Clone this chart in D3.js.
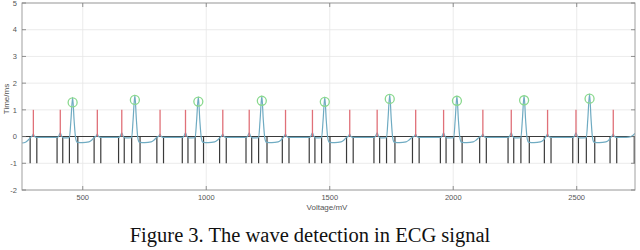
<!DOCTYPE html>
<html><head><meta charset="utf-8">
<script src="https://d3js.org/d3.v7.min.js"></script>
<style>body{margin:0;background:#fff}svg{display:block}</style>
</head><body>
<svg id="c" width="640" height="250"></svg>
<script>
// ---- data ----
const xTicks = [500, 1000, 1500, 2000, 2500];
const yTicks = [-2, -1, 0, 1, 2, 3, 4, 5];
const xDomain = [254, 2736];
const yDomain = [-2, 5];
// detected peaks (green circles): [x, y]
const peakMarks = [[459,1.28],[711,1.37],[968,1.31],[1225,1.34],[1480,1.30],[1743,1.41],[2015,1.34],[2287,1.36],[2552,1.42]];
// red spikes (height 1)
const redSpikes = [300,409,559,658,813,916,1067,1174,1321,1430,1581,1692,1848,1961,2120,2235,2382,2497,2648];
const redHeight = 1;
// black markers (depth -1)
const blackStems = [287,314,396,419,446,480,546,573,645,668,698,732,800,827,903,926,955,989,1054,1081,1161,1184,1212,1246,1308,1335,1417,1440,1467,1501,1568,1595,1679,1702,1730,1764,1835,1862,1948,1971,2002,2036,2107,2134,2222,2245,2274,2308,2369,2396,2484,2507,2539,2573,2635,2662,2733];
const blackDepth = -1;
// blue ECG signal: [x, y]
const ecg = [
[254,-0.24],[268,-0.21],[280,-0.12],[289,-0.03],[295,0.02],[300,0.09],[305,0],[314,-0.03],
[397,-0.03],[404,0.04],[409,0.14],[414,0.02],[423,-0.05],[446,-0.04],[452,0.6],[459,1.47],[465,0.6],[471,-0.05],[477,-0.21],[499,-0.23],[525,-0.2],[537,-0.13],[547,-0.03],[554,0.02],[559,0.09],[564,0],[573,-0.03],
[646,-0.03],[653,0.04],[658,0.14],[663,0.02],[672,-0.05],[698,-0.04],[704,0.65],[711,1.55],[717,0.65],[723,-0.05],[729,-0.21],[751,-0.23],[777,-0.2],[789,-0.13],[799,-0.03],[808,0.02],[813,0.09],[818,0],[827,-0.03],
[904,-0.03],[911,0.04],[916,0.14],[921,0.02],[930,-0.05],[955,-0.04],[961,0.6],[968,1.49],[974,0.6],[980,-0.05],[986,-0.21],[1008,-0.23],[1034,-0.2],[1046,-0.13],[1056,-0.03],[1062,0.02],[1067,0.09],[1072,0],[1081,-0.03],
[1162,-0.03],[1169,0.04],[1174,0.14],[1179,0.02],[1188,-0.05],[1212,-0.04],[1218,0.62],[1225,1.52],[1231,0.62],[1237,-0.05],[1243,-0.21],[1265,-0.23],[1291,-0.2],[1303,-0.13],[1312,-0.03],[1316,0.02],[1321,0.09],[1326,0],[1335,-0.03],
[1418,-0.03],[1425,0.04],[1430,0.14],[1435,0.02],[1444,-0.05],[1467,-0.04],[1473,0.6],[1480,1.48],[1486,0.6],[1492,-0.05],[1498,-0.21],[1520,-0.23],[1546,-0.2],[1558,-0.13],[1568,-0.03],[1576,0.02],[1581,0.09],[1586,0],[1595,-0.03],
[1680,-0.03],[1687,0.04],[1692,0.14],[1697,0.02],[1706,-0.05],[1730,-0.04],[1736,0.66],[1743,1.58],[1749,0.66],[1755,-0.05],[1761,-0.21],[1783,-0.23],[1809,-0.2],[1821,-0.13],[1833,-0.03],[1843,0.02],[1848,0.09],[1853,0],[1862,-0.03],
[1949,-0.03],[1956,0.04],[1961,0.14],[1966,0.02],[1975,-0.05],[2002,-0.04],[2008,0.62],[2015,1.52],[2021,0.62],[2027,-0.05],[2033,-0.21],[2055,-0.23],[2081,-0.2],[2093,-0.13],[2105,-0.03],[2115,0.02],[2120,0.09],[2125,0],[2134,-0.03],
[2223,-0.03],[2230,0.04],[2235,0.14],[2240,0.02],[2249,-0.05],[2274,-0.04],[2280,0.63],[2287,1.54],[2293,0.63],[2299,-0.05],[2305,-0.21],[2327,-0.23],[2353,-0.2],[2365,-0.13],[2373,-0.03],[2377,0.02],[2382,0.09],[2387,0],[2396,-0.03],
[2485,-0.03],[2492,0.04],[2497,0.14],[2502,0.02],[2511,-0.05],[2539,-0.04],[2545,0.67],[2552,1.6],[2558,0.67],[2564,-0.05],[2570,-0.21],[2592,-0.23],[2618,-0.2],[2630,-0.13],[2638,-0.03],[2643,0.02],[2648,0.09],[2653,0],[2662,-0.03],
[2700,-0.03],[2720,0.0],[2736,0.12]
];
const xLabel = "Voltage/mV";
const yLabel = "Time/ms";
const caption = "Figure 3. The wave detection in ECG signal";

// ---- layout ----
const L = 22, R = 635, T = 3, B = 190;
const svg = d3.select("#c");
svg.append("rect").attr("width",640).attr("height",250).attr("fill","#fff");
const x = d3.scaleLinear().domain(xDomain).range([L, R]);
const y = d3.scaleLinear().domain(yDomain).range([B, T]);

svg.append("clipPath").attr("id","clip").append("rect")
  .attr("x",L).attr("y",T).attr("width",R-L).attr("height",B-T);

// grid
const grid = svg.append("g").attr("stroke","#e6e6e6").attr("stroke-width",0.8);
grid.selectAll(".gy").data(yTicks).join("line")
  .attr("x1",L).attr("x2",R).attr("y1",d=>y(d)).attr("y2",d=>y(d));
grid.selectAll(".gx").data(xTicks).join("line")
  .attr("y1",T).attr("y2",B).attr("x1",d=>x(d)).attr("x2",d=>x(d));

const plot = svg.append("g").attr("clip-path","url(#clip)");

// black baseline + stems
plot.append("line").attr("x1",L).attr("x2",R).attr("y1",y(0)).attr("y2",y(0))
  .attr("stroke","#3a3a3a").attr("stroke-width",1.1);
plot.selectAll(".bs").data(blackStems).join("line")
  .attr("x1",d=>x(d)).attr("x2",d=>x(d)).attr("y1",y(0)).attr("y2",y(blackDepth))
  .attr("stroke","#3a3a3a").attr("stroke-width",1.2);

// blue signal
const line = d3.line().x(d=>x(d[0])).y(d=>y(d[1])).curve(d3.curveMonotoneX);
plot.append("path").datum(ecg).attr("d",line).attr("fill","none")
  .attr("stroke","#6fabc2").attr("stroke-width",1.2);

// red spikes
plot.selectAll(".rs").data(redSpikes).join("line")
  .attr("x1",d=>x(d)).attr("x2",d=>x(d)).attr("y1",y(0)).attr("y2",y(redHeight))
  .attr("stroke","#e07078").attr("stroke-width",1.3);

// green circles
plot.selectAll(".pk").data(peakMarks).join("circle")
  .attr("cx",d=>x(d[0])).attr("cy",d=>y(d[1])).attr("r",4.5)
  .attr("fill","none").attr("stroke","#8ad98e").attr("stroke-width",1.3);

// axes box
const axc = "#a0a0a0";
svg.append("rect").attr("x",L).attr("y",T).attr("width",R-L).attr("height",B-T)
  .attr("fill","none").attr("stroke",axc).attr("stroke-width",1);
const tk = svg.append("g").attr("stroke","#777").attr("stroke-width",0.8);
tk.selectAll(".tb").data(xTicks).join("line")
  .attr("x1",d=>x(d)).attr("x2",d=>x(d)).attr("y1",B).attr("y2",B-4);
tk.selectAll(".tt").data(xTicks).join("line")
  .attr("x1",d=>x(d)).attr("x2",d=>x(d)).attr("y1",T).attr("y2",T+4);
tk.selectAll(".tl").data(yTicks).join("line")
  .attr("x1",L).attr("x2",L+4).attr("y1",d=>y(d)).attr("y2",d=>y(d));
tk.selectAll(".tr").data(yTicks).join("line")
  .attr("x1",R).attr("x2",R-4).attr("y1",d=>y(d)).attr("y2",d=>y(d));

const font = "Liberation Sans, Arial, sans-serif";
svg.selectAll(".xl").data(xTicks).join("text")
  .attr("x",d=>x(d)).attr("y",B+10).attr("text-anchor","middle")
  .attr("font-family",font).attr("font-size",7.5).attr("fill","#555").text(d=>d);
svg.selectAll(".yl").data(yTicks).join("text")
  .attr("x",L-5).attr("y",d=>y(d)+2.7).attr("text-anchor","end")
  .attr("font-family",font).attr("font-size",7.5).attr("fill","#555").text(d=>d);

svg.append("text").attr("x",327).attr("y",209.5).attr("text-anchor","middle")
  .attr("font-family",font).attr("font-size",8).attr("fill","#555").text(xLabel);
svg.append("text").attr("transform","translate(9,99) rotate(-90)").attr("text-anchor","middle")
  .attr("font-family",font).attr("font-size",8).attr("fill","#555").text(yLabel);

svg.append("text").attr("x",310).attr("y",242).attr("text-anchor","middle")
  .attr("font-family","Liberation Serif, Times New Roman, serif").attr("font-size",20.5)
  .attr("fill","#111").text(caption);
</script>
</body></html>
